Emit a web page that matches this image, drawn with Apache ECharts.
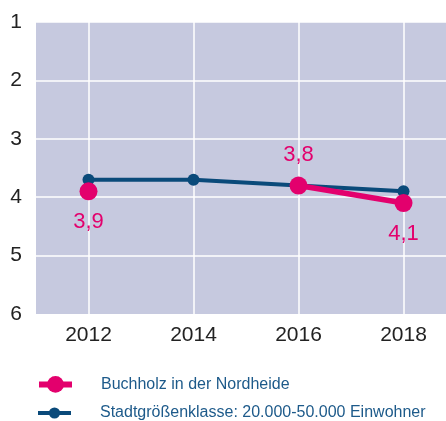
<!DOCTYPE html>
<html>
<head>
<meta charset="utf-8">
<script src="https://cdn.jsdelivr.net/npm/echarts@6/dist/echarts.min.js"></script>
<style>html,body{margin:0;padding:0;background:#fff}#c{width:446px;height:421px}</style>
</head>
<body>
<div id="c"></div>
<script>
var years = ['2012', '2014', '2016', '2018'];
var buchholz = [3.9, null, 3.8, 4.1];
var klasse = [3.7, 3.7, 3.8, 3.9];
var nameBuchholz = 'Buchholz in der Nordheide';
var nameKlasse = 'Stadtgrößenklasse: 20.000-50.000 Einwohner';

var PINK = '#e3006d', BLUE = '#0a4a7a';

var buchData = buchholz.map(function (v, i) {
  if (v === null) return null;
  return { value: v, label: { position: v > klasse[i] ? 'bottom' : 'top' } };
});

var chart = echarts.init(document.getElementById('c'), null, { renderer: 'canvas' });
chart.setOption({
  animation: false,
  grid: { left: 36, top: 22, right: -10, bottom: 107, show: true, backgroundColor: '#c6c9df', borderWidth: 0, outerBoundsMode: 'none', containLabel: false },
  xAxis: {
    type: 'category', data: years, boundaryGap: true,
    axisLine: { show: false }, axisTick: { show: false, alignWithLabel: true },
    axisLabel: { color: '#222', fontSize: 21, fontFamily: 'Liberation Sans, Arial', margin: 11 },
    splitLine: { show: true, alignWithLabel: true, lineStyle: { color: '#ffffff', width: 1.5 } }
  },
  yAxis: {
    type: 'value', inverse: true, min: 1, max: 6, interval: 1,
    axisLine: { show: false }, axisTick: { show: false },
    axisLabel: { color: '#222', fontSize: 21, fontFamily: 'Liberation Sans, Arial', margin: 14 },
    splitLine: { show: true, showMaxLine: false, lineStyle: { color: '#ffffff', width: 1.5 } }
  },
  legend: [{
    orient: 'vertical', left: 31, top: 371, itemWidth: 33, itemHeight: 21,
    data: [nameBuchholz], lineStyle: { width: 6 },
    textStyle: { color: '#1d5a8a', fontSize: 16, fontFamily: 'Liberation Sans, Arial', padding: [0, 0, 0, 24] }
  }, {
    orient: 'vertical', left: 31, top: 400, itemWidth: 33, itemHeight: 14,
    data: [nameKlasse], lineStyle: { width: 4 },
    textStyle: { color: '#1d5a8a', fontSize: 16, fontFamily: 'Liberation Sans, Arial', padding: [0, 0, 0, 24] }
  }],
  series: [{
    name: nameKlasse, type: 'line', data: klasse, z: 2,
    symbol: 'circle', symbolSize: 12,
    lineStyle: { color: BLUE, width: 4 }, itemStyle: { color: BLUE }
  }, {
    name: nameBuchholz, type: 'line', data: buchData, z: 3, connectNulls: false,
    symbol: 'circle', symbolSize: 18,
    lineStyle: { color: PINK, width: 5.5 }, itemStyle: { color: PINK },
    label: {
      show: true, color: PINK, fontSize: 22, fontFamily: 'Liberation Sans, Arial', distance: 11,
      formatter: function (p) { return String(p.value).replace('.', ','); }
    }
  }]
});
</script>
</body>
</html>
